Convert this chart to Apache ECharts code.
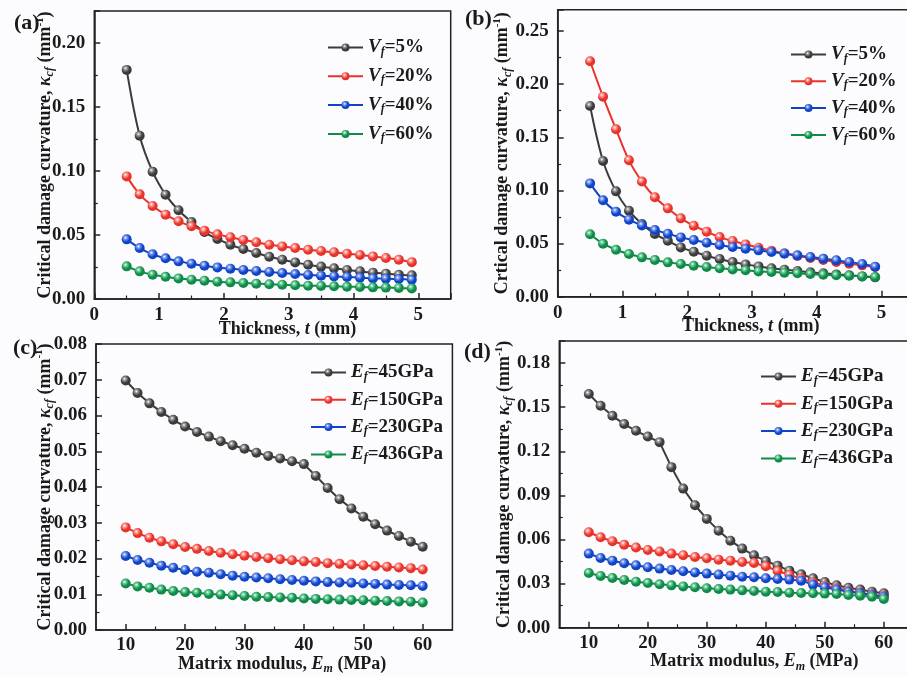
<!DOCTYPE html>
<html>
<head>
<meta charset="utf-8">
<script src="https://cdn.jsdelivr.net/npm/echarts@6/dist/echarts.min.js"></script>
<style>html,body{margin:0;padding:0;background:#fcfcfe;overflow:hidden;width:907px;height:676px;}#c{width:916px;height:676px;}</style>
</head>
<body>
<div id="c"></div>
<script>
// ---------- DATA ----------
const thicknessX = [0.5,0.7,0.9,1.1,1.3,1.5,1.7,1.9,2.1,2.3,2.5,2.7,2.9,3.1,3.3,3.5,3.7,3.9,4.1,4.3,4.5,4.7,4.9];
const modulusX = [10,12,14,16,18,20,22,24,26,28,30,32,34,36,38,40,42,44,46,48,50,52,54,56,58,60];
const modulusTicks = [10,20,30,40,50,60];
const modulusMinorTicks = [15,25,35,45,55];

const vfNames = ['Vf=5%','Vf=20%','Vf=40%','Vf=60%'];
const efNames = ['Ef=45GPa','Ef=150GPa','Ef=230GPa','Ef=436GPa'];

// panel (a)
const aVf5  = [0.179,0.1276,0.0995,0.0815,0.0693,0.0602,0.0523,0.0469,0.0424,0.039,0.036,0.033,0.0307,0.0286,0.0268,0.0253,0.024,0.0227,0.0216,0.0206,0.0198,0.019,0.0185];
const aVf20 = [0.0958,0.0818,0.0727,0.0659,0.0607,0.0568,0.0534,0.0505,0.0482,0.0461,0.0443,0.0424,0.0411,0.0398,0.0385,0.0375,0.0365,0.0354,0.0344,0.0333,0.032,0.0307,0.0288];
const aVf40 = [0.0466,0.0398,0.0349,0.0318,0.0294,0.0276,0.026,0.0247,0.0237,0.0227,0.0219,0.0211,0.0203,0.0195,0.0188,0.0182,0.0177,0.0172,0.0167,0.0161,0.0159,0.0156,0.0151];
const aVf60 = [0.0255,0.0216,0.019,0.0174,0.0161,0.0151,0.0143,0.0135,0.013,0.0125,0.012,0.0115,0.0112,0.0107,0.0104,0.0102,0.0099,0.0096,0.0094,0.0091,0.0089,0.0086,0.0083];

// panel (b)
const bVf5  = [0.1794,0.1277,0.0991,0.0809,0.0684,0.059,0.0527,0.0464,0.0423,0.0386,0.0354,0.0326,0.0304,0.0285,0.0267,0.0254,0.0242,0.0229,0.022,0.021,0.0201,0.0191,0.0182];
const bVf20 = [0.2215,0.1882,0.1575,0.1283,0.1083,0.0935,0.0831,0.0737,0.0668,0.0612,0.0561,0.0524,0.0492,0.0461,0.0433,0.0408,0.0383,0.0364,0.0345,0.0326,0.0311,0.0295,0.0279];
const bVf40 = [0.1066,0.0907,0.08,0.0725,0.0671,0.0627,0.0593,0.0558,0.0533,0.0508,0.0486,0.0467,0.0452,0.0436,0.042,0.0405,0.0389,0.0373,0.0358,0.0342,0.0326,0.0307,0.0282];
const bVf60 = [0.0587,0.0499,0.0442,0.0401,0.037,0.0345,0.0323,0.0307,0.0292,0.0279,0.0267,0.0257,0.0248,0.0238,0.0232,0.0226,0.022,0.0213,0.0207,0.0201,0.0198,0.0191,0.0185];

// panel (c)
const cEf45  = [0.0698,0.0663,0.0634,0.061,0.0588,0.0569,0.0554,0.0541,0.0528,0.0517,0.0507,0.0496,0.0487,0.048,0.0472,0.0464,0.0431,0.0397,0.0366,0.034,0.0317,0.0296,0.0278,0.0263,0.0247,0.0233];
const cEf150 = [0.0287,0.0271,0.0258,0.0248,0.024,0.0232,0.0227,0.0221,0.0216,0.0212,0.0208,0.0204,0.0201,0.0198,0.0195,0.0192,0.019,0.0187,0.0185,0.0183,0.0181,0.0179,0.0177,0.0175,0.0173,0.0169];
const cEf230 = [0.0207,0.0196,0.0188,0.018,0.0174,0.0168,0.0163,0.016,0.0156,0.0152,0.0149,0.0147,0.0145,0.0142,0.014,0.0138,0.0136,0.0134,0.0133,0.0132,0.013,0.0129,0.0127,0.0126,0.0125,0.0123];
const cEf436 = [0.013,0.0122,0.0118,0.0113,0.0109,0.0106,0.0104,0.0101,0.0099,0.0097,0.0095,0.0093,0.0092,0.0091,0.009,0.0088,0.0087,0.0086,0.0085,0.0084,0.0083,0.0082,0.0081,0.008,0.0079,0.0077];

// panel (d)
const dEf45  = [0.1589,0.1509,0.1441,0.1385,0.1339,0.13,0.1262,0.1092,0.0946,0.0833,0.074,0.066,0.0592,0.0538,0.0492,0.0454,0.0422,0.0388,0.0363,0.0336,0.0311,0.0288,0.0272,0.0259,0.0245,0.0234];
const dEf150 = [0.0649,0.0615,0.0588,0.0565,0.0545,0.0529,0.0518,0.0504,0.0493,0.0481,0.0472,0.0463,0.0456,0.0447,0.044,0.0418,0.0386,0.0359,0.0334,0.0309,0.0286,0.0268,0.0252,0.0238,0.0225,0.0216];
const dEf230 = [0.0504,0.0474,0.0456,0.0438,0.0424,0.0411,0.0402,0.0393,0.0384,0.0375,0.0368,0.0361,0.0354,0.0347,0.0343,0.0336,0.0331,0.0327,0.032,0.0293,0.0275,0.0259,0.0245,0.0234,0.0223,0.0211];
const dEf436 = [0.0372,0.0352,0.0338,0.0325,0.0313,0.0304,0.0295,0.0288,0.0281,0.0275,0.0268,0.0263,0.0259,0.0254,0.025,0.0245,0.0243,0.0238,0.0236,0.0234,0.0232,0.0229,0.0222,0.0218,0.0211,0.0195];

// ---------- STYLE ----------
const FONT = 'Liberation Serif';
const INK = '#1a1a1a';
const colors = ['#3b3b3b', '#e8322a', '#0f44c6', '#0f8a48'];
const light = ['#9a9a9a', '#ff9d96', '#7d9cf0', '#6fd09a'];
const W = 916;

function ball(i) {
  return { type: 'radial', x: 0.38, y: 0.34, r: 0.7,
    colorStops: [{offset: 0, color: '#ffffff'}, {offset: 0.22, color: light[i]}, {offset: 0.6, color: colors[i]}, {offset: 1, color: colors[i]}] };
}

const baseTxt = {fontFamily: FONT, fontWeight: 'bold', color: INK};
const richName = {
  n: Object.assign({}, baseTxt, {fontSize: 18, lineHeight: 22}),
  k: Object.assign({}, baseTxt, {fontSize: 18, fontStyle: 'italic', lineHeight: 22}),
  s: Object.assign({}, baseTxt, {fontSize: 12, fontStyle: 'italic', lineHeight: 12, verticalAlign: 'bottom'}),
  p: Object.assign({}, baseTxt, {fontSize: 11, lineHeight: 11, verticalAlign: 'top'})
};
const richLegend = {
  n: Object.assign({}, baseTxt, {fontSize: 19, lineHeight: 20}),
  i: Object.assign({}, baseTxt, {fontSize: 19, fontStyle: 'italic', lineHeight: 20}),
  s: Object.assign({}, baseTxt, {fontSize: 12, fontStyle: 'italic', lineHeight: 12, verticalAlign: 'bottom'})
};

function legendText(name) {
  const m = name.match(/^([VE])f(=.*)$/);
  return '{i|' + m[1] + '}{s|f}{n|' + m[2] + '}';
}

// plot rectangles: [left, top, rightEdge, bottomEdge] in page pixels
const rects = [
  [94.3, 11, 450.7, 299],
  [557.7, 9.7, 914, 296.7],
  [96, 344, 452.4, 630],
  [559.3, 341, 913.3, 627.7]
];
const grids = rects.map(r => ({left: r[0], top: r[1], right: W - r[2], bottom: 676 - r[3],
  show: true, borderColor: '#222', borderWidth: 1.5, backgroundColor: 'transparent'}));

const lineSty = {color: '#222', width: 1.5};

function xAxisT(idx, name) {
  return {
    type: 'value', gridIndex: idx, min: 0, max: 5.5, interval: 1,
    name: name, nameLocation: 'middle', nameGap: 19, nameMoveOverlap: false,
    nameTextStyle: {rich: richName, padding: [0, 0, 0, 30]},
    axisLine: {show: true, onZero: false, lineStyle: lineSty},
    axisTick: {show: true, inside: true, length: 6, lineStyle: lineSty},
    minorTick: {show: true, splitNumber: 2, length: 3.5, lineStyle: {color: '#222', width: 1.2}},
    splitLine: {show: false},
    axisLabel: {fontFamily: FONT, fontWeight: 'bold', fontSize: 19, color: INK, margin: 7,
      showMaxLabel: false, formatter: v => String(Math.round(v))}
  };
}
function xAxisE(idx, name, shift) {
  return {
    type: 'value', gridIndex: idx, min: 5, max: 65, interval: 5,
    name: name, nameLocation: 'middle', nameGap: 23, nameMoveOverlap: false,
    nameTextStyle: {rich: richName, padding: [0, 0, 0, shift]},
    axisLine: {show: true, onZero: false, lineStyle: lineSty},
    axisTick: {show: true, inside: true, length: 6, lineStyle: lineSty, customValues: modulusTicks},
    minorTick: {show: false},
    splitLine: {show: false},
    axisLabel: {fontFamily: FONT, fontWeight: 'bold', fontSize: 19, color: INK, margin: 6,
      customValues: modulusTicks, formatter: v => String(Math.round(v))}
  };
}
function xAxisEMinor(idx) {
  return {
    type: 'value', gridIndex: idx, min: 5, max: 65, interval: 5, position: 'bottom', offset: 0,
    axisLine: {show: false},
    axisTick: {show: true, inside: true, length: 3.5, lineStyle: {color: '#222', width: 1.2}, customValues: modulusMinorTicks},
    axisLabel: {show: false},
    minorTick: {show: false},
    splitLine: {show: false}
  };
}
function yAxis(idx, max, interval, name, gap) {
  return {
    type: 'value', gridIndex: idx, min: 0, max: max, interval: interval,
    name: name, nameLocation: 'middle', nameGap: gap, nameRotate: 90, nameMoveOverlap: false,
    nameTextStyle: {rich: richName},
    axisLine: {show: true, onZero: false, lineStyle: lineSty},
    axisTick: {show: true, inside: true, length: 6, lineStyle: lineSty},
    minorTick: {show: true, splitNumber: 2, length: 3.5, lineStyle: {color: '#222', width: 1.2}},
    splitLine: {show: false},
    axisLabel: {fontFamily: FONT, fontWeight: 'bold', fontSize: 19, color: INK, margin: 9,
      showMaxLabel: Math.abs(max / interval - Math.round(max / interval)) < 1e-6,
      formatter: v => v.toFixed(2)}
  };
}

const yName1 = '{n|Critical damage curvature, }{k|κ}{s|cf}{n| (mm}{p|-1}{n|)}';
const yName2 = '{n|Crtical damage curvature, }{k|κ}{s|cf}{n| (mm}{p|-1}{n|)}';
const xNameT = '{n|Thickness, }{k|t}{n| (mm)}';
const xNameE = '{n|Matrix modulus, }{k|E}{s|m}{n| (MPa)}';

function mk(xs, ys, name, ci, idx, smooth) {
  return {
    type: 'line', name: name, xAxisIndex: idx, yAxisIndex: idx,
    data: xs.map((x, i) => [x, ys[i]]),
    smooth: smooth ? 0.35 : false,
    symbol: 'circle', symbolSize: 10, showSymbol: true,
    lineStyle: {color: colors[ci], width: 2},
    itemStyle: {color: ball(ci)},
    emphasis: {disabled: true},
    animation: false
  };
}

function legend(names, left, top, gap) {
  return {
    data: names, orient: 'vertical', left: left, top: top,
    itemWidth: 35, itemHeight: 10, itemGap: gap, selectedMode: false,
    formatter: legendText,
    textStyle: {rich: richLegend}
  };
}

const panelTitle = (t, l, tp) => ({text: t, left: l, top: tp, textStyle: {fontFamily: FONT, fontWeight: 'bold', fontSize: 22, color: INK}});

const option = {
  backgroundColor: '#fcfcfe',
  animation: false,
  title: [panelTitle('(a)', 9, 7), panelTitle('(b)', 460, 3), panelTitle('(c)', 8, 332), panelTitle('(d)', 459, 336)],
  grid: grids,
  xAxis: [
    xAxisT(0, xNameT),
    xAxisT(1, xNameT),
    xAxisE(2, xNameE, 16),
    xAxisE(3, xNameE, 36),
    xAxisEMinor(2),
    xAxisEMinor(3)
  ],
  yAxis: [
    yAxis(0, 0.225, 0.05, yName1, 38),
    yAxis(1, 0.27, 0.05, yName2, 44),
    yAxis(2, 0.08, 0.01, yName1, 40),
    yAxis(3, 0.195, 0.03, yName1, 44)
  ],
  legend: [
    legend(vfNames, 322, 33, 9.3),
    legend(vfNames, 785, 40, 7.3),
    legend(efNames, 305, 358, 7.8),
    legend(efNames, 755, 362, 7.8)
  ],
  series: [
    mk(thicknessX, aVf5, vfNames[0], 0, 0, true),
    mk(thicknessX, aVf20, vfNames[1], 1, 0, true),
    mk(thicknessX, aVf40, vfNames[2], 2, 0, true),
    mk(thicknessX, aVf60, vfNames[3], 3, 0, true),
    mk(thicknessX, bVf5, vfNames[0], 0, 1, true),
    mk(thicknessX, bVf20, vfNames[1], 1, 1, true),
    mk(thicknessX, bVf40, vfNames[2], 2, 1, true),
    mk(thicknessX, bVf60, vfNames[3], 3, 1, true),
    mk(modulusX, cEf45, efNames[0], 0, 2, false),
    mk(modulusX, cEf150, efNames[1], 1, 2, false),
    mk(modulusX, cEf230, efNames[2], 2, 2, false),
    mk(modulusX, cEf436, efNames[3], 3, 2, false),
    mk(modulusX, dEf45, efNames[0], 0, 3, false),
    mk(modulusX, dEf150, efNames[1], 1, 3, false),
    mk(modulusX, dEf230, efNames[2], 2, 3, false),
    mk(modulusX, dEf436, efNames[3], 3, 3, false)
  ]
};

const chart = echarts.init(document.getElementById('c'), null, {renderer: 'canvas', width: W, height: 676});
chart.setOption(option);
</script>
</body>
</html>
